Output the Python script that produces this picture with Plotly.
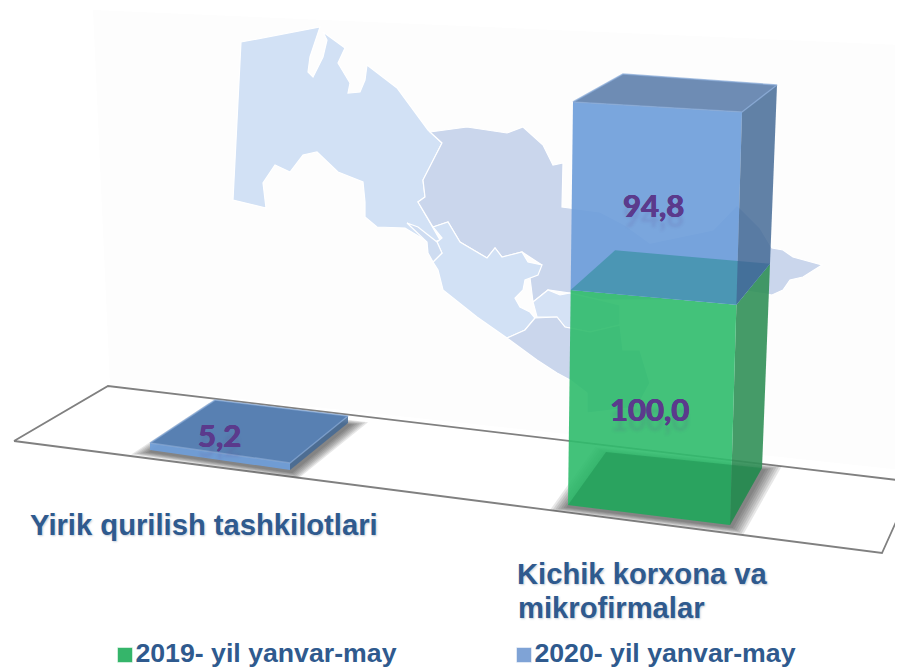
import plotly.graph_objects as go

# ---- data ----
categories = ["Yirik qurilish tashkilotlari", "Kichik korxona va mikrofirmalar"]
series_names = ["2019- yil yanvar-may", "2020- yil yanvar-may"]
values_2019 = [0.0, 100.0]
values_2020 = [5.2, 94.8]
value_labels_2019 = ["", "100,0"]
value_labels_2020 = ["5,2", "94,8"]

# ---- drawing style and projection of the 3D scene (pixels) ----
W, H = 903, 667
PAGE_MARGIN = 8  # the browser's default body margin
STACK_MAX = 194.8
PERSP = 0.000431
# corners are front-left, front-right, back-right, back-left
BASE = [
    [(150, 450), (290, 470), (348, 423), (215, 407)],
    [(568, 505), (730, 525), (762, 468), (606, 452)],
]
TOP_AT_MAX = [
    [(150, 208), (290, 228), (348, 181), (215, 165)],
    [(573, 102), (742, 112), (777, 85), (623, 74)],
]
LABEL_SHIFT = [(-1, -22), (-2, 5)]

INK = "#5B3A8C"
TITLE = "#2F5A8E"
FLOOR = [(14, 441), (108, 386), (914, 482), (882, 553), (14, 441)]
WALL = "M93,10 L903,45 L903,470 L110,385 Z"
MAP = [
    ("#D2E1F5", "M241,42 L320,27 L310,57 L308,72 L313,77 L323,57 L327,40 L323,32 L345,48 L338,63 L350,83 L348,93 L360,92 L365,80 L367,65 L397,88 L428,130 L442,143 L423,180 L425,197 L418,202 L440,240 L430,243 L405,228 L377,227 L365,217 L365,202 L363,182 L338,172 L317,152 L303,155 L290,172 L275,165 L263,183 L266,208 L233,200 Z"),
    ("#CAD6EC", "M430,132 L467,127 L507,133 L523,127 L543,145 L553,165 L563,163 L562,207 L600,212 L625,225 L650,243 L713,230 L737,205 L760,228 L772,248 L783,250 L793,257 L822,265 L803,277 L790,280 L783,290 L772,295 L740,290 L700,300 L640,300 L600,300 L570,293 L548,290 L533,302 L528,262 L542,265 L522,252 L502,257 L495,248 L487,258 L460,242 L448,222 L433,227 L418,202 L425,197 L423,180 L442,143 Z"),
    ("#D2E1F5", "M433,227 L448,222 L460,242 L487,258 L495,248 L502,257 L522,252 L528,262 L542,265 L538,275 L525,280 L523,290 L515,298 L520,307 L530,312 L535,318 L525,330 L507,338 L477,317 L443,290 L438,270 L433,262 L442,253 L437,242 L442,238 Z"),
    ("#CEDCF1", "M407,223 L418,227 L437,242 L442,253 L433,262 L428,253 L427,242 Z"),
    ("#D5E2F5", "M533,302 L548,290 L560,295 L570,293 L600,300 L620,305 L620,325 L590,332 L565,327 L557,317 L537,317 Z"),
    ("#CAD6EC", "M507,338 L525,330 L535,318 L557,317 L565,327 L590,332 L620,325 L623,350 L640,350 L650,383 L637,407 L587,413 L587,393 L570,380 L557,373 L537,360 Z"),
]
FACE = {
    "green_front": "rgba(47,187,108,0.9)",
    "green_side": "rgba(49,144,88,0.9)",
    "green_floor": "rgba(20,130,70,0.36)",
    "green_top": "rgb(75,150,180)",
    "blue_front": "rgba(111,158,218,0.92)",
    "blue_side": "rgba(67,105,149,0.84)",
    "blue_top": ["rgb(88,128,178)", "rgb(110,140,180)"],
    "blue_edge": "rgba(135,170,215,0.7)",
    "swatch": ["#35B56A", "#7FA3D6"],
}


def corner(cat, i, value):
    t = (value / (1 + PERSP * value)) / (STACK_MAX / (1 + PERSP * STACK_MAX))
    (x0, y0), (x1, y1) = BASE[cat][i], TOP_AT_MAX[cat][i]
    return x0 + t * (x1 - x0), y0 + t * (y1 - y0)


def face(points, color, line=None):
    xs = [p[0] for p in points] + [points[0][0]]
    ys = [p[1] for p in points] + [points[0][1]]
    fig.add_trace(go.Scatter(
        x=xs, y=ys, mode="lines", fill="toself", fillcolor=color,
        line=dict(width=1.5 if line else 0, color=line or "rgba(0,0,0,0)"),
        hoverinfo="skip", showlegend=False))


def shadow(cat):
    pts = BASE[cat]
    cx = sum(p[0] for p in pts) / 4
    cy = sum(p[1] for p in pts) / 4
    for k in range(1, 8):
        s = 1 + 0.028 * k
        face([(cx + (x - cx) * s + 1, cy + (y - cy) * s + 2) for x, y in pts],
             "rgba(40,40,40,0.11)")


fig = go.Figure()
fig.add_trace(go.Scatter(
    x=[p[0] for p in FLOOR], y=[p[1] for p in FLOOR], mode="lines",
    line=dict(color="#808080", width=1.8), hoverinfo="skip", showlegend=False))

for cat in range(len(categories)):
    shadow(cat)

for cat in range(len(categories)):
    low = values_2019[cat]
    high = low + values_2020[cat]
    c = lambda i, v: corner(cat, i, v)
    if low > 0:
        face([c(1, 0), c(2, 0), c(2, low), c(1, low)], FACE["green_side"])
        face([c(0, 0), c(1, 0), c(1, low), c(0, low)], FACE["green_front"])
        face([c(0, 0), c(1, 0), c(2, 0), c(3, 0)], FACE["green_floor"])
    face([c(0, low), c(1, low), c(1, high), c(0, high)], FACE["blue_front"])
    if low > 0:
        face([c(0, low), c(1, low), c(2, low), c(3, low)], FACE["green_top"])
    face([c(1, low), c(2, low), c(2, high), c(1, high)], FACE["blue_side"])
    face([c(0, high), c(1, high), c(2, high), c(3, high)], FACE["blue_top"][cat], line=FACE["blue_edge"])

# value labels
annotations = []
HEAVY = f"0.5px 0 0 {INK}, -0.5px 0 0 {INK}, 0 0.4px 0 {INK}, 0px 10px 3px rgba(91,58,140,0.13)"


def value_label(cat, lo, hi, text):
    if not text:
        return
    mid = (lo + hi) / 2
    x = (corner(cat, 0, mid)[0] + corner(cat, 1, mid)[0]) / 2 + LABEL_SHIFT[cat][0]
    y = (corner(cat, 0, mid)[1] + corner(cat, 1, mid)[1]) / 2 + LABEL_SHIFT[cat][1]
    annotations.append(dict(x=x, y=y, xref="x", yref="y", text=f"<b>{text}</b>", showarrow=False,
                            font=dict(family="Lato", size=31, color=INK, shadow=HEAVY)))


for cat in range(len(categories)):
    value_label(cat, 0, values_2019[cat], value_labels_2019[cat])
    value_label(cat, values_2019[cat], values_2019[cat] + values_2020[cat], value_labels_2020[cat])


def title(text, x, y):
    annotations.append(dict(x=x, y=y, xref="x", yref="y", text=f"<b>{text}</b>", showarrow=False,
                            xanchor="left", yanchor="middle",
                            font=dict(family="Liberation Sans", size=29.2, color=TITLE,
                                      shadow="1px 1px 2px rgba(60,90,130,0.3)")))


title(categories[0], 28, 525)
title(" ".join(categories[1].split(" ")[:3]), 515, 574)
title(" ".join(categories[1].split(" ")[3:]), 516, 608)

# legend entries
for name, color, x in zip(series_names, FACE["swatch"], [125, 524]):
    fig.add_trace(go.Scatter(
        x=[x], y=[655], mode="markers+text", name=name, text=[f"<b>{name}</b>"],
        textposition="middle right",
        textfont=dict(family="Liberation Sans", size=26.7, color=TITLE),
        marker=dict(symbol="square", size=15, color=color, line=dict(color="rgba(255,255,255,0.5)", width=1)),
        hoverinfo="skip", showlegend=False, cliponaxis=False))

shapes = [dict(type="path", path=WALL, xref="x", yref="y", fillcolor="#FDFDFD", line_width=0, layer="below")]
for color, path in MAP:
    shapes.append(dict(type="path", path=path, xref="x", yref="y", fillcolor=color,
                       line=dict(color="white", width=1.2), layer="below"))

fig.update_layout(
    width=W - PAGE_MARGIN, height=H - PAGE_MARGIN, margin=dict(l=0, r=0, t=0, b=0),
    paper_bgcolor="white", plot_bgcolor="white", showlegend=False,
    xaxis=dict(range=[PAGE_MARGIN, W], visible=False, fixedrange=True),
    yaxis=dict(range=[H, PAGE_MARGIN], visible=False, fixedrange=True),
    shapes=shapes, annotations=annotations,
)
fig.write_html("out.html", config={"displayModeBar": False})
